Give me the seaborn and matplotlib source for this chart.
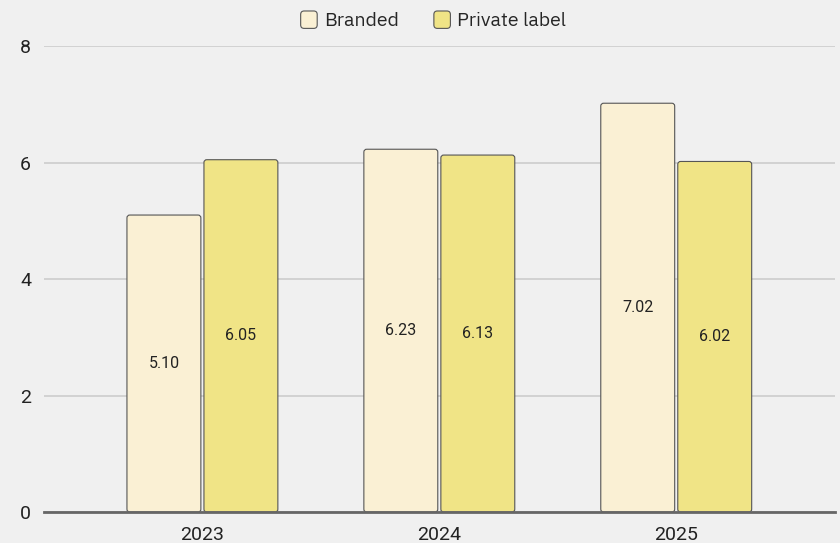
import matplotlib
matplotlib.use("Agg")
import matplotlib.pyplot as plt
import seaborn as sns
import pandas as pd
from matplotlib.patches import FancyBboxPatch, Patch
from matplotlib.legend_handler import HandlerPatch

# Data
years = ["2023", "2024", "2025"]
branded = [5.10, 6.23, 7.02]
private_label = [6.05, 6.13, 6.02]
series = ["Branded", "Private label"]
colors = ["#faf0d4", "#f0e486"]

df = pd.DataFrame({
    "year": years * 2,
    "value": branded + private_label,
    "series": [series[0]] * 3 + [series[1]] * 3,
})

sns.set_theme(style="white")
plt.rcParams["font.family"] = ["Roboto", "DejaVu Sans"]

fig = plt.figure(figsize=(8.4, 5.43), dpi=100)
fig.patch.set_facecolor("#f0f0f0")
ax = fig.add_axes([0.052, 0.057, 0.942, 0.858])
ax.set_facecolor("#f0f0f0")

sns.barplot(data=df, x="year", y="value", hue="series", palette=colors,
            saturation=1, width=0.65, edgecolor="#555555", linewidth=0.8,
            gap=0.04, legend=False, ax=ax)

ax.set_xlim(-0.67, 2.67)
ax.set_ylim(0, 8)
ax.set_yticks([0, 2, 4, 6, 8])
ax.yaxis.grid(True, color="#cccccc", linewidth=1.2)
ax.set_axisbelow(True)
for s in ["top", "right", "left"]:
    ax.spines[s].set_visible(False)
ax.spines["bottom"].set_color("#666666")
ax.spines["bottom"].set_linewidth(2)
ax.spines["bottom"].set_zorder(5)
ax.tick_params(axis="both", length=0, labelsize=14, colors="#222222")
ax.tick_params(axis="y", pad=9)
ax.tick_params(axis="x", pad=10)
ax.set_xlabel("")
ax.set_ylabel("")

# rounded tops + value labels
for bar in list(ax.patches):
    h = bar.get_height()
    if h == 0:
        continue
    x, w = bar.get_x(), bar.get_width()
    fb = FancyBboxPatch((x, 0), w, h,
                        boxstyle="round,pad=0,rounding_size=0.012",
                        mutation_aspect=8 / 3.34 * 791 / 466,
                        facecolor=bar.get_facecolor(), edgecolor="#555555",
                        linewidth=0.8, zorder=3)
    ax.add_patch(fb)
    bar.set_visible(False)
    ax.text(x + w / 2, h / 2, f"{h:.2f}", ha="center", va="center",
            fontsize=11.5, color="#222222", zorder=4)


def round_handle(legend, orig_handle, xdescent, ydescent, width, height, fontsize):
    return FancyBboxPatch((-xdescent, -ydescent), width, height,
                          boxstyle="round,pad=0,rounding_size=2.5")


handles = [Patch(facecolor=c, edgecolor="#555555", linewidth=0.8, label=s)
           for c, s in zip(colors, series)]
fig.legend(handles=handles, loc="upper center", bbox_to_anchor=(0.516, 1.012),
           ncol=2, frameon=False, handlelength=0.85, handleheight=1.0,
           handletextpad=0.35, columnspacing=1.8,
           handler_map={Patch: HandlerPatch(patch_func=round_handle)},
           prop={"family": ["IBM Plex Sans", "Noto Sans", "DejaVu Sans"], "size": 14})

fig.savefig("out.png", dpi=100, facecolor=fig.get_facecolor())
